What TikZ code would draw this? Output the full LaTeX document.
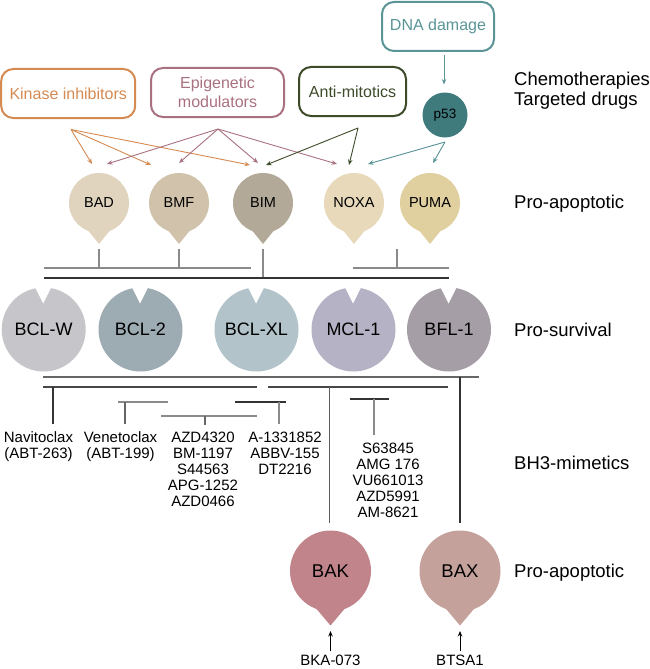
\documentclass[tikz,border=0pt]{standalone}
\usepackage{fontspec}
\setmainfont{Liberation Sans}
\usetikzlibrary{arrows.meta}
\definecolor{ckin}{HTML}{D58A52}
\definecolor{cepi}{HTML}{A9717F}
\definecolor{cami}{HTML}{3D4B29}
\definecolor{cdna}{HTML}{5A9497}
\definecolor{cpft}{HTML}{3F7B7D}
\definecolor{cBAD}{HTML}{E0D4BE}
\definecolor{cBMF}{HTML}{D1C3AB}
\definecolor{cBIM}{HTML}{B2A998}
\definecolor{cNOXA}{HTML}{E7D9BA}
\definecolor{cPUMA}{HTML}{E0CF9F}
\definecolor{cBCLW}{HTML}{C5C5CA}
\definecolor{cBCLtwo}{HTML}{9DABB3}
\definecolor{cBCLXL}{HTML}{B2C3CA}
\definecolor{cMCL}{HTML}{B4B2C4}
\definecolor{cBFL}{HTML}{A69EA6}
\definecolor{cBAK}{HTML}{C1848B}
\definecolor{cBAX}{HTML}{C5A19C}
\definecolor{lgray}{HTML}{8A8A8A}
\definecolor{mgray}{HTML}{666666}
\definecolor{dgray}{HTML}{333333}
\begin{document}
\begin{tikzpicture}[x=1pt,y=-1pt,
  box/.style={draw, rounded corners=12pt, line width=2pt, inner sep=0pt, align=center, font=\fontsize{16}{19}\selectfont},
  pin/.style={circle, inner sep=0pt, minimum size=60pt, font=\fontsize{14.5}{17}\selectfont},
  surv/.style={circle, inner sep=0pt, minimum size=84pt, font=\fontsize{18}{22}\selectfont},
  bigpin/.style={circle, inner sep=0pt, minimum size=81pt, font=\fontsize{18.5}{22}\selectfont},
  lab/.style={anchor=base west, inner sep=0pt, font=\fontsize{18.5}{22}\selectfont},
  drug/.style={anchor=north, align=center, inner sep=0pt, font=\fontsize{15}{16}\selectfont},
  arr/.style={-{Stealth[length=5.5pt,width=4.5pt]}, line width=0.9pt},
  brk/.style={line width=1.1pt},
]
\useasboundingbox (0,0) rectangle (650,669);

% ---- top boxes
\node[box, draw=ckin, text=ckin, minimum width=134pt, minimum height=49pt] (kin) at (68.2,93.5) {Kinase inhibitors};
\node[box, draw=cepi, text=cepi, minimum width=133pt, minimum height=49pt] (epi) at (217.5,92.5) {Epigenetic\\modulators};
\node[box, draw=cami, text=cami, minimum width=107pt, minimum height=49pt] (ami) at (352.5,91.5) {Anti-mitotics};
\node[box, draw=cdna, text=cdna, minimum width=112pt, minimum height=49pt] (dna) at (438,26.5) {DNA damage};
\node[circle, fill=cpft, inner sep=0pt, minimum size=45pt, font=\fontsize{13.5}{16}\selectfont] (p53) at (445,115) {p53};

% ---- right labels
\node[lab] (lchemo) at (514,85.5) {Chemotherapies};
\node[lab] (ltarg) at (514,105) {Targeted drugs};
\node[lab] (lproa) at (514,208.6) {Pro-apoptotic};
\node[lab] (lsurv) at (514,336.6) {Pro-survival};
\node[lab] (lbh) at (514,469.6) {BH3-mimetics};
\node[lab] (lprob) at (514,577) {Pro-apoptotic};

% ---- pro-apoptotic pins
\foreach \n/\x/\c/\t in {bad/99/cBAD/BAD, bmf/179/cBMF/BMF, bim/263/cBIM/BIM, noxa/354/cNOXA/NOXA, puma/430/cPUMA/PUMA}{
  \node[pin, fill=\c] (\n) at (\x,203) {\t};
  \fill[\c] (\n.center) ++(-10.3,28.2) -- ++(10.3,12.8) -- ++(10.3,-12.8) -- cycle;
}

% ---- arrow sources and targets
\coordinate (kinsrc) at (71,129.5);
\coordinate (episrc) at (218,129);
\coordinate (amisrc) at (358,128);
\coordinate (pftsrc) at (445,142);
\coordinate (dnaout) at (444,55);
\coordinate (pftin) at (444,84.5);
\coordinate (tk1) at (92,164);
\coordinate (tk2) at (151,165);
\coordinate (tk3) at (250,165);
\coordinate (te1) at (107,164);
\coordinate (te2) at (179,163);
\coordinate (te3) at (258,163);
\coordinate (te4) at (337,164);
\coordinate (ta1) at (266,165);
\coordinate (ta2) at (349,165);
\coordinate (tp1) at (368,164);
\coordinate (tp2) at (433,163);

\draw[arr, ckin] (kinsrc) -- (tk1);
\draw[arr, ckin] (kinsrc) -- (tk2);
\draw[arr, ckin] (kinsrc) -- (tk3);
\draw[arr, cepi] (episrc) -- (te1);
\draw[arr, cepi] (episrc) -- (te2);
\draw[arr, cepi] (episrc) -- (te3);
\draw[arr, cepi] (episrc) -- (te4);
\draw[arr, cami] (amisrc) -- (ta1);
\draw[arr, cami] (amisrc) -- (ta2);
\draw[arr, cdna] (pftsrc) -- (tp1);
\draw[arr, cdna] (pftsrc) -- (tp2);
\draw[arr, cdna] (dnaout) -- (pftin);

% ---- brackets under pro-apoptotic
\draw[brk, lgray] (bad.center) ++(0,46) -- ++(0,19);
\draw[brk, lgray] (bmf.center) ++(0,46) -- ++(0,19);
\draw[brk, lgray] (44,268) -- (251,268);
\draw[line width=1.5pt, lgray] (bim.center) ++(0,46) -- ++(0,29);
\draw[brk, lgray] (353,268) -- (449,268);
\draw[brk, lgray] (397,249) -- (397,268);
\draw[brk, dgray] (44,278) -- (449,278);

% ---- pro-survival
\foreach \n/\x/\c/\t in {bclw/43.7/cBCLW/BCL-W, bcltwo/140.5/cBCLtwo/BCL-2, bclxl/256.5/cBCLXL/BCL-XL, mcl/353.5/cMCL/MCL-1, bfl/449/cBFL/BFL-1}{
  \node[surv, fill=\c] (\n) at (\x,329.5) {\t};
  \fill[white] (\n.center) ++(-9.5,-44) -- ++(9,18) -- ++(9,-18) -- cycle;
}

% ---- BH3-mimetic lines
\draw[brk, mgray] (43,377) -- (479,377);
\draw[brk, dgray!90] (43,387) -- (257,387);
\draw[brk, dgray!90] (268,387) -- (448,387);
\draw[brk, dgray] (53,387) -- (53,424);
\draw[brk, lgray] (118,402) -- (168,402);
\draw[brk, mgray] (125,402) -- (125,424);
\draw[brk, lgray] (161,416) -- (257,416);
\draw[brk, mgray] (205,416) -- (205,425);
\draw[brk, dgray] (235,402) -- (286,402);
\draw[brk, lgray] (279,402) -- (279,424);
\draw[brk, dgray] (350,399) -- (389,399);
\draw[line width=1.4pt, lgray] (374,399) -- (374,435);

% ---- drug labels
\node[drug] (navi) at (38.5,431.6) {Navitoclax\\(ABT-263)};
\node[drug] (vene) at (120.5,431.6) {Venetoclax\\(ABT-199)};
\node[drug] (azd) at (203,431.6) {AZD4320\\BM-1197\\S44563\\APG-1252\\AZD0466};
\node[drug] (abbv) at (285,431.6) {A-1331852\\ABBV-155\\DT2216};
\node[drug] (mcli) at (388,442.6) {S63845\\AMG 176\\VU661013\\AZD5991\\AM-8621};

% ---- BAK / BAX
\node[bigpin, fill=cBAK] (bak) at (330.5,571) {BAK};
\fill[cBAK] (bak.center) ++(-13.9,38) -- ++(13.9,16.5) -- ++(13.9,-16.5) -- cycle;
\node[bigpin, fill=cBAX] (bax) at (460,571) {BAX};
\fill[cBAX] (bax.center) ++(-13.9,38) -- ++(13.9,16.5) -- ++(13.9,-16.5) -- cycle;
\coordinate (bakline) at (329.5,387);
\coordinate (baxline) at (460,377);
\draw[brk, dgray!80] (bakline) -- (329.5,523);
\draw[brk, dgray] (baxline) -- (460,523);

\node[inner sep=0pt, font=\fontsize{15}{17}\selectfont] (bka) at (330.5,660) {BKA-073};
\node[inner sep=0pt, font=\fontsize{15}{17}\selectfont] (btsa) at (460,660) {BTSA1};
\draw[arr, black] (bka.north) ++(0,-3) coordinate (bkatail) -- (330.5,631);
\draw[arr, black] (btsa.north) ++(0,-3) coordinate (btsatail) -- (460,631);
\end{tikzpicture}
\end{document}
